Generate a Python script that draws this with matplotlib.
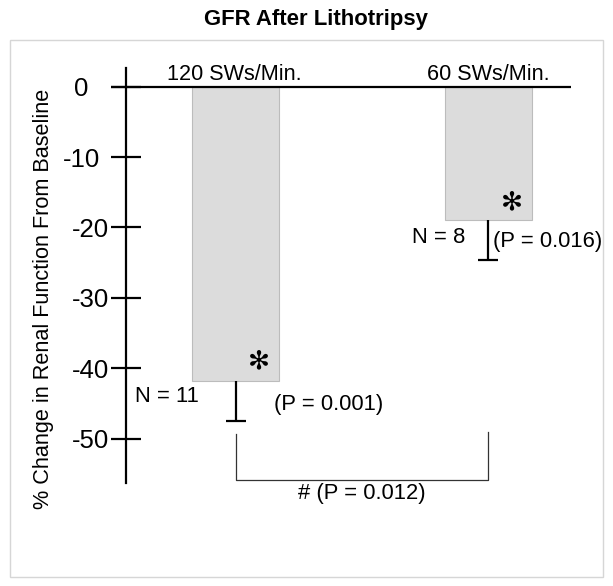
import matplotlib
matplotlib.use("Agg")
import matplotlib.pyplot as plt
from matplotlib.patches import Rectangle
from matplotlib.transforms import ScaledTranslation

# ---- data ----
categories = ["120 SWs/Min.", "60 SWs/Min."]
change = [-41.8, -18.9]          # mean % change
err_end = [-47.5, -24.6]         # lower end of error bar
n_labels = ["N = 11", "N = 8"]
p_labels = ["(P = 0.001)", "(P = 0.016)"]
compare_label = "# (P = 0.012)"
yticks = [0, -10, -20, -30, -40, -50]
ytick_labels = ["0", "-10", "-20", "-30", "-40", "-50"]

plt.rcParams['font.family'] = ['Liberation Sans', 'DejaVu Sans']

W, H = 613, 586
fig = plt.figure(figsize=(W / 100, H / 100), dpi=100)

# frame (light grey box)
fig.patches.append(Rectangle((10 / W, 1 - 577 / H), (603 - 10) / W, (577 - 40) / H,
                             transform=fig.transFigure, fill=False,
                             edgecolor='#d6d6d6', lw=1.0))
fig.text(316 / W, 1 - 20 / H, "GFR After Lithotripsy", ha='center', va='center',
         fontsize=15.9, fontweight='bold')

ax = fig.add_axes([10 / W, 1 - 577 / H, (603 - 10) / W, (577 - 40) / H])
ax.patch.set_visible(False)
ax.set_xlim(-0.893, 1.455)
ax.set_ylim(-69.65, 6.63)

pos = list(range(len(categories)))
ax.bar(pos, change, width=0.345, color='#dcdcdc', edgecolor='#bcbcbc', lw=0.8, zorder=1)

# error bars (lower only)
ax.vlines(pos, change, err_end, color='black', lw=1.6, zorder=3)
ax.plot(pos, err_end, ls='none', marker='_', ms=14.5, mew=1.6, color='black', zorder=3)

# zero line
ax.hlines(0, -0.493, 1.328, color='black', lw=1.6, zorder=4)

# y axis
for s in ['top', 'right', 'bottom']:
    ax.spines[s].set_visible(False)
ax.spines['left'].set_position(('data', -0.434))
ax.spines['left'].set_bounds(-56.3, 2.7)
ax.spines['left'].set_linewidth(1.6)
ax.set_xticks([])
ax.set_yticks(yticks)
ax.set_yticklabels(ytick_labels)
ax.tick_params(axis='y', direction='inout', length=21.6, width=1.6, pad=1.5, labelsize=18.5)
# small hand-placed offsets of the original labels
shifts = {0: -20, 1: -9}
for i, lab in enumerate(ax.get_yticklabels()):
    if i in shifts:
        lab.set_transform(lab.get_transform() +
                          ScaledTranslation(shifts[i] / 100, 0, fig.dpi_scale_trans))
ax.set_ylabel("% Change in Renal Function From Baseline", fontsize=15.6)
ax.yaxis.set_label_coords(44 / 593, 1 - (299 - 40) / 537)

# category labels
ax.text(-0.27, 0.95, categories[0], ha='left', va='baseline', fontsize=15.6)
ax.text(pos[1], 0.95, categories[1], ha='center', va='baseline', fontsize=15.6)

# N labels, P labels
ax.text(-0.398, -44.0, n_labels[0], ha='left', va='center', fontsize=15.8)
ax.text(0.152, -45.1, p_labels[0], ha='left', va='center', fontsize=15.8)
ax.text(0.698, -21.4, n_labels[1], ha='left', va='center', fontsize=15.8)
ax.text(1.019, -22.0, p_labels[1], ha='left', va='center', fontsize=15.8)

# significance asterisks
ax.text(0.093, -39.0, "\u273B", ha='center', va='center', fontsize=19,
        family=['DejaVu Sans'], fontweight='bold')
ax.text(1.094, -16.4, "\u273B", ha='center', va='center', fontsize=19,
        family=['DejaVu Sans'], fontweight='bold')

# comparison bracket
ax.plot([pos[0], pos[0], pos[1], pos[1]], [-49.3, -55.9, -55.9, -49.1],
        color='#333333', lw=0.9)
ax.text((pos[0] + pos[1]) / 2, -57.8, compare_label, ha='center', va='center', fontsize=15.8)

fig.savefig("out.png", dpi=100)
